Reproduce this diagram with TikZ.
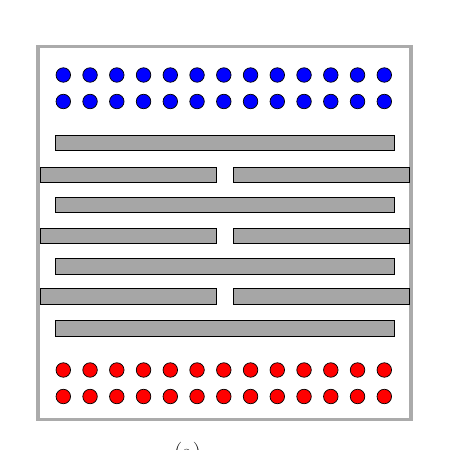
\documentclass[tikz,border=0pt]{standalone}
\begin{document}
\begin{tikzpicture}[x=1pt,y=-1pt,
  frame/.style={draw=black!33,line width=3.5pt},
  bar/.style={draw=black,fill=black!35,line width=0.8pt},
  bluedot/.style={circle,draw=black,fill=blue,line width=0.7pt,minimum size=14.5pt,inner sep=0pt},
  reddot/.style={circle,draw=black,fill=red,line width=0.7pt,minimum size=14.5pt,inner sep=0pt}]
\useasboundingbox (0,0) rectangle (451,450);
\draw[frame] (38,46.7) rectangle (411,419.7);
\foreach \i in {0,...,12}{
  \node[bluedot] (b1\i) at ({63.3+26.75*\i},75) {};
  \node[bluedot] (b2\i) at ({63.3+26.75*\i},101.5) {};
  \node[reddot] (r1\i) at ({63.3+26.75*\i},370) {};
  \node[reddot] (r2\i) at ({63.3+26.75*\i},396.5) {};
}
\foreach \k/\y in {0/143,2/204.8,4/266.6,6/328.4}{
  \draw[bar] (55,\y-7.8) rectangle (394,\y+7.8);
}
\foreach \k/\y in {1/175,3/235.7,5/296.5}{
  \draw[bar] (40,\y-7.8) rectangle (216,\y+7.8);
  \draw[bar] (233,\y-7.8) rectangle (409,\y+7.8);
}
\node[anchor=north,font=\fontsize{23}{26}\selectfont,inner sep=0pt] (lab) at (187.5,442) {(a)};
\end{tikzpicture}
\end{document}
